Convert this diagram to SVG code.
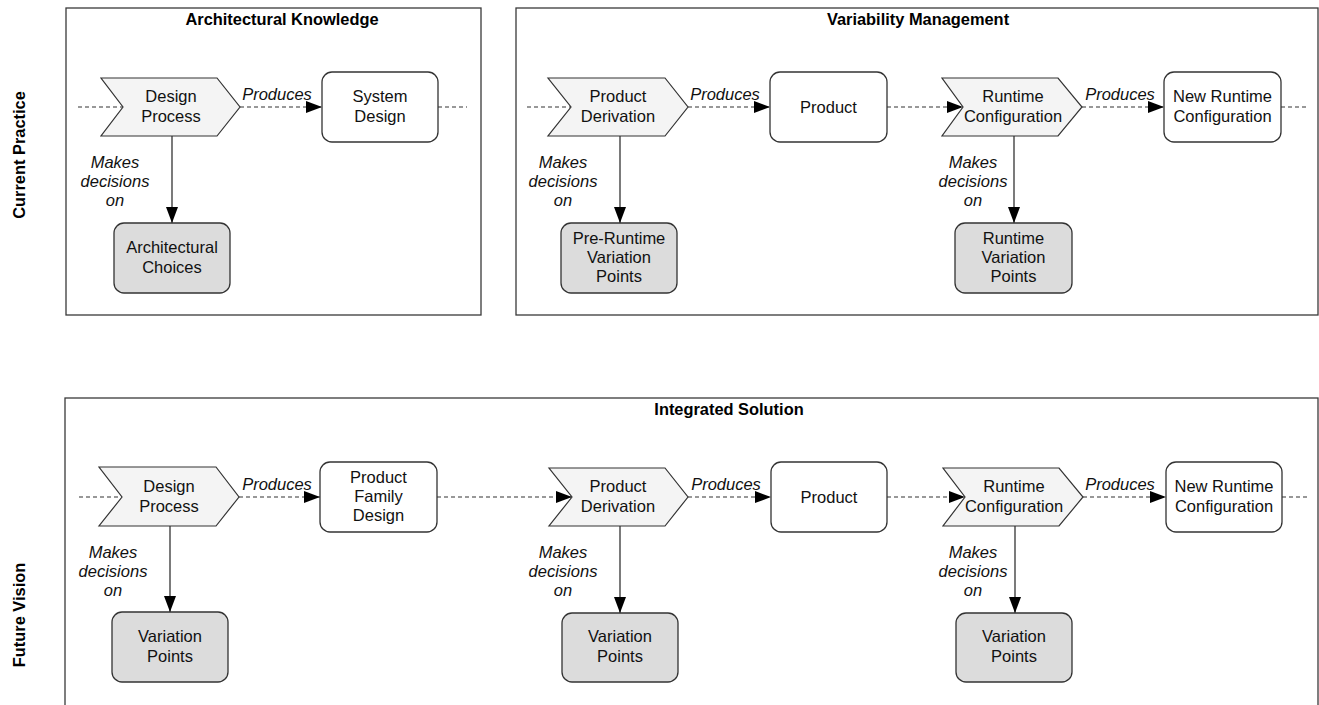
<svg xmlns="http://www.w3.org/2000/svg" width="1319" height="705" viewBox="0 0 1319 705">
<defs>
<style>
.frame{fill:#fff;stroke:#3a3a3a;stroke-width:1.3}
.chev{fill:#f4f4f4;stroke:#333;stroke-width:1.2}
.box{fill:#fff;stroke:#333;stroke-width:1.3}
.gbox{fill:#dcdcdc;stroke:#333;stroke-width:1.3}
.t{font-family:"Liberation Sans",Arial,sans-serif;font-size:16.5px;fill:#111;text-anchor:middle}
.it{font-family:"Liberation Sans",Arial,sans-serif;font-size:16.5px;font-style:italic;fill:#111;text-anchor:middle}
.ttl{font-family:"Liberation Sans",Arial,sans-serif;font-size:16.4px;font-weight:bold;fill:#000;text-anchor:middle}
.dash{fill:none;stroke:#333;stroke-width:1.1;stroke-dasharray:4,3}
.solid{fill:none;stroke:#333;stroke-width:1.3}
</style>
<marker id="ah" markerWidth="16" markerHeight="12" refX="16" refY="6" orient="auto" markerUnits="userSpaceOnUse">
<path d="M0,0 L16,6 L0,12 Z" fill="#000"/>
</marker>
</defs>
<rect width="1319" height="705" fill="#fff"/>

<g id="side-labels">
<text class="ttl" transform="translate(25,155) rotate(-90)">Current Practice</text>
<text class="ttl" transform="translate(25,615) rotate(-90)">Future Vision</text>
</g>

<g id="frame-ak">
<rect class="frame" x="66" y="8" width="415" height="307"/>
<text class="ttl" x="282" y="25">Architectural Knowledge</text>
</g>
<g id="frame-vm">
<rect class="frame" x="516" y="8" width="802" height="307"/>
<text class="ttl" x="918" y="25">Variability Management</text>
</g>
<g id="frame-is">
<rect class="frame" x="65" y="398" width="1253" height="320"/>
<text class="ttl" x="729" y="415">Integrated Solution</text>
</g>

<g id="connectors">
<line class="dash" x1="78" y1="107" x2="123" y2="107"/>
<line class="dash" x1="240" y1="107" x2="322" y2="107" marker-end="url(#ah)"/>
<line class="dash" x1="438" y1="107" x2="467" y2="107"/>
<line class="dash" x1="527" y1="107" x2="571" y2="107"/>
<line class="dash" x1="688" y1="107" x2="770" y2="107" marker-end="url(#ah)"/>
<line class="dash" x1="887" y1="107" x2="963" y2="107" marker-end="url(#ah)"/>
<line class="dash" x1="1082" y1="107" x2="1164" y2="107" marker-end="url(#ah)"/>
<line class="dash" x1="1281" y1="107" x2="1308" y2="107"/>
<line class="solid" x1="172" y1="136" x2="172" y2="223" marker-end="url(#ah)"/>
<line class="solid" x1="620" y1="136" x2="620" y2="223" marker-end="url(#ah)"/>
<line class="solid" x1="1014" y1="136" x2="1014" y2="223" marker-end="url(#ah)"/>
<line class="dash" x1="79" y1="497" x2="122" y2="497"/>
<line class="dash" x1="239" y1="497" x2="320" y2="497" marker-end="url(#ah)"/>
<line class="dash" x1="437" y1="497" x2="572" y2="497" marker-end="url(#ah)"/>
<line class="dash" x1="688" y1="497" x2="771" y2="497" marker-end="url(#ah)"/>
<line class="dash" x1="887" y1="497" x2="965" y2="497" marker-end="url(#ah)"/>
<line class="dash" x1="1083" y1="497" x2="1166" y2="497" marker-end="url(#ah)"/>
<line class="dash" x1="1282" y1="497" x2="1307" y2="497"/>
<line class="solid" x1="170" y1="526" x2="170" y2="612" marker-end="url(#ah)"/>
<line class="solid" x1="620" y1="526" x2="620" y2="613" marker-end="url(#ah)"/>
<line class="solid" x1="1015" y1="526" x2="1015" y2="613" marker-end="url(#ah)"/>
</g>

<g id="connector-labels">
<text class="it" x="277" y="100">Produces</text>
<text class="it" x="725" y="100">Produces</text>
<text class="it" x="1120" y="100">Produces</text>
<text class="it" x="277" y="490">Produces</text>
<text class="it" x="726" y="490">Produces</text>
<text class="it" x="1120" y="490">Produces</text>
<text class="it" x="115" y="168">Makes<tspan x="115" y="187">decisions</tspan><tspan x="115" y="206">on</tspan></text>
<text class="it" x="563" y="168">Makes<tspan x="563" y="187">decisions</tspan><tspan x="563" y="206">on</tspan></text>
<text class="it" x="973" y="168">Makes<tspan x="973" y="187">decisions</tspan><tspan x="973" y="206">on</tspan></text>
<text class="it" x="113" y="558">Makes<tspan x="113" y="577">decisions</tspan><tspan x="113" y="596">on</tspan></text>
<text class="it" x="563" y="558">Makes<tspan x="563" y="577">decisions</tspan><tspan x="563" y="596">on</tspan></text>
<text class="it" x="973" y="558">Makes<tspan x="973" y="577">decisions</tspan><tspan x="973" y="596">on</tspan></text>
</g>

<g id="cp-design-process">
<polygon class="chev" points="101,78 217,78 240,107 217,136 101,136 123,107"/>
<text class="t" x="171" y="102">Design<tspan x="171" y="121.5">Process</tspan></text>
</g>
<g id="cp-system-design">
<rect class="box" x="322" y="72" width="116" height="70" rx="10"/>
<text class="t" x="380" y="102">System<tspan x="380" y="121.5">Design</tspan></text>
</g>
<g id="cp-architectural-choices">
<rect class="gbox" x="114" y="223" width="116" height="70" rx="10"/>
<text class="t" x="172" y="253">Architectural<tspan x="172" y="272.5">Choices</tspan></text>
</g>
<g id="cp-product-derivation">
<polygon class="chev" points="548,78 665,78 688,107 665,136 548,136 571,107"/>
<text class="t" x="618" y="102">Product<tspan x="618" y="121.5">Derivation</tspan></text>
</g>
<g id="cp-product">
<rect class="box" x="770" y="72" width="117" height="70" rx="10"/>
<text class="t" x="828.5" y="113">Product</text>
</g>
<g id="cp-pre-runtime-vp">
<rect class="gbox" x="561" y="223" width="116" height="70" rx="10"/>
<text class="t" x="619" y="244">Pre-Runtime<tspan x="619" y="263">Variation</tspan><tspan x="619" y="282">Points</tspan></text>
</g>
<g id="cp-runtime-configuration">
<polygon class="chev" points="942,78 1058,78 1082,107 1058,136 942,136 963,107"/>
<text class="t" x="1013" y="102">Runtime<tspan x="1013" y="121.5">Configuration</tspan></text>
</g>
<g id="cp-new-runtime-configuration">
<rect class="box" x="1164" y="72" width="117" height="70" rx="10"/>
<text class="t" x="1222.5" y="102">New Runtime<tspan x="1222.5" y="121.5">Configuration</tspan></text>
</g>
<g id="cp-runtime-vp">
<rect class="gbox" x="955" y="223" width="117" height="70" rx="10"/>
<text class="t" x="1013.5" y="244">Runtime<tspan x="1013.5" y="263">Variation</tspan><tspan x="1013.5" y="282">Points</tspan></text>
</g>

<g id="fv-design-process">
<polygon class="chev" points="99,467 216,467 239,497 216,526 99,526 122,497"/>
<text class="t" x="169" y="492">Design<tspan x="169" y="511.5">Process</tspan></text>
</g>
<g id="fv-product-family-design">
<rect class="box" x="320" y="462" width="117" height="70" rx="10"/>
<text class="t" x="378.5" y="483">Product<tspan x="378.5" y="502">Family</tspan><tspan x="378.5" y="521">Design</tspan></text>
</g>
<g id="fv-variation-points-1">
<rect class="gbox" x="112" y="612" width="116" height="70" rx="10"/>
<text class="t" x="170" y="642">Variation<tspan x="170" y="661.5">Points</tspan></text>
</g>
<g id="fv-product-derivation">
<polygon class="chev" points="549,468 665,468 688,497 665,526 549,526 572,497"/>
<text class="t" x="618" y="492">Product<tspan x="618" y="511.5">Derivation</tspan></text>
</g>
<g id="fv-product">
<rect class="box" x="771" y="462" width="116" height="70" rx="10"/>
<text class="t" x="829" y="503">Product</text>
</g>
<g id="fv-variation-points-2">
<rect class="gbox" x="562" y="613" width="116" height="69" rx="10"/>
<text class="t" x="620" y="642">Variation<tspan x="620" y="661.5">Points</tspan></text>
</g>
<g id="fv-runtime-configuration">
<polygon class="chev" points="943,468 1059,468 1083,497 1059,526 943,526 965,497"/>
<text class="t" x="1014" y="492">Runtime<tspan x="1014" y="511.5">Configuration</tspan></text>
</g>
<g id="fv-new-runtime-configuration">
<rect class="box" x="1166" y="462" width="116" height="70" rx="10"/>
<text class="t" x="1224" y="492">New Runtime<tspan x="1224" y="511.5">Configuration</tspan></text>
</g>
<g id="fv-variation-points-3">
<rect class="gbox" x="956" y="613" width="116" height="69" rx="10"/>
<text class="t" x="1014" y="642">Variation<tspan x="1014" y="661.5">Points</tspan></text>
</g>
</svg>
